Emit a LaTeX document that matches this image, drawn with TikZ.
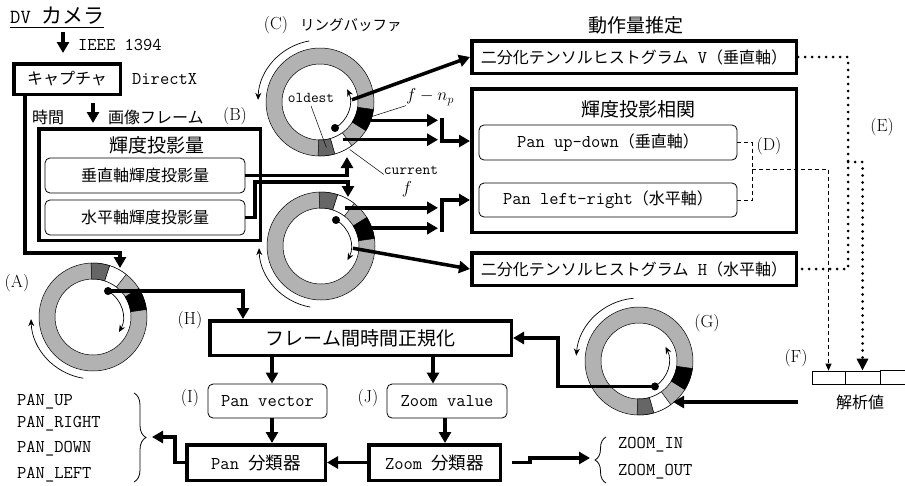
\documentclass[tikz,border=0pt]{standalone}
\usepackage{fontspec}
\newfontfamily\jpfont{Noto Sans CJK JP}
\usetikzlibrary{arrows.meta,decorations.pathreplacing,calc}
\definecolor{ringgray}{gray}{0.70}
\definecolor{darkseg}{gray}{0.40}
\newcommand\jpS{\fontsize{14.5}{16}\jpfont}
\newcommand\jpM{\fontsize{16}{18}\jpfont}
\newcommand\jpL{\fontsize{19}{21}\jpfont}
\newcommand\ttM{\fontsize{18}{20}\ttfamily}
\newcommand\rmL{\fontsize{17.5}{19}\rmfamily}
\newcommand\annsec[4]{\filldraw[shift={(#1)},fill=#4,draw=black,line width=0.5pt] (#2:54pt) arc[start angle=#2,end angle=#3,radius=54pt] -- (#3:38pt) arc[start angle=#3,end angle=#2,radius=38pt] -- cycle;}
\newcommand\ringbase[1]{\filldraw[shift={(#1)},fill=ringgray,draw=black,line width=0.5pt,even odd rule] (0,0) circle[radius=54pt] (0,0) circle[radius=38pt];}
\tikzset{
 tbox/.style={draw,line width=3.5pt,inner sep=0pt},
 rbox/.style={draw,line width=0.8pt,rounded corners=5pt,inner sep=0pt},
 txt/.style={inner sep=0pt},
 conn/.style={line width=3.5pt,-{Triangle[length=11pt,width=12pt]}},
 thinarr/.style={line width=0.7pt,-{Stealth[length=7pt,width=6pt]}},
 dotline/.style={line width=3pt,line cap=round,dash pattern=on 0pt off 7pt},
 dashline/.style={line width=0.8pt,dash pattern=on 4pt off 3pt},
 ptr/.style={line width=0.5pt},
}
\begin{document}
\begin{tikzpicture}[x=1pt,y=1pt]
\useasboundingbox (0,0) rectangle (905,-485);
\fill[white] (0,0) rectangle (905,-485);
\coordinate (rC) at (320,-102);
\coordinate (rL) at (321,-246);
\coordinate (rA) at (93,-317);
\coordinate (rG) at (639,-361);
% ring C
\ringbase{rC}
\annsec{rC}{-92}{-74}{darkseg}
\annsec{rC}{-74}{-54}{white}
\annsec{rC}{-32}{-8}{black}
\draw[shift={(rC)},thinarr] (-60:30pt) arc[start angle=-60,end angle=25,radius=30pt];
\fill[shift={(rC)}] (-60:30pt) circle[radius=4pt];
\draw[shift={(rC)},thinarr] (100:62pt) arc[start angle=100,end angle=178,radius=62pt];
% ring lower
\ringbase{rL}
\annsec{rL}{72}{92}{darkseg}
\annsec{rL}{52}{72}{white}
\annsec{rL}{8}{32}{black}
\draw[shift={(rL)},thinarr] (60:30pt) arc[start angle=60,end angle=-28,radius=30pt];
\fill[shift={(rL)}] (60:30pt) circle[radius=4pt];
\draw[shift={(rL)},thinarr] (-100:62pt) arc[start angle=-100,end angle=-178,radius=62pt];
% ring A
\ringbase{rA}
\annsec{rA}{72}{92}{darkseg}
\annsec{rA}{52}{72}{white}
\annsec{rA}{8}{32}{black}
\draw[shift={(rA)},thinarr] (60:30pt) arc[start angle=60,end angle=-30,radius=30pt];
\fill[shift={(rA)}] (60:30pt) circle[radius=4pt];
\draw[shift={(rA)},thinarr] (-99:62pt) arc[start angle=-99,end angle=-178,radius=62pt];
% ring G
\ringbase{rG}
\annsec{rG}{-92}{-74}{darkseg}
\annsec{rG}{-74}{-54}{white}
\annsec{rG}{-32}{-8}{black}
\draw[shift={(rG)},thinarr] (-58:30pt) arc[start angle=-58,end angle=28,radius=30pt];
\fill[shift={(rG)}] (-58:30pt) circle[radius=4pt];
\draw[shift={(rG)},thinarr] (95:63pt) arc[start angle=95,end angle=175,radius=63pt];

% left top
\node[txt,anchor=west] (dv) at (10,-16) {{\fontsize{20}{21}\ttfamily DV\ }{\fontsize{21}{22}\jpfont カメラ}};
\draw[line width=1pt] ([yshift=-4pt]dv.base west) -- ([yshift=-4pt]dv.base east);
\node[txt,anchor=west,font=\ttM] (ieee) at (78,-45) {IEEE 1394};
\node[tbox,minimum width=106.5pt,minimum height=30.5pt,font=\jpM] (cap) at (67,-79) {キャプチャ};
\node[txt,anchor=west,font=\ttM] (dx) at (132,-79) {DirectX};
\node[txt,anchor=west,font=\jpM] (jikan) at (32,-117) {時間};
\node[txt,anchor=west,font=\jpM] (gazo) at (108,-117) {画像フレーム};
\node[txt,font=\rmL] (lB) at (235,-116) {(B)};
\node[tbox,minimum width=221.5pt,minimum height=111.5pt] (bbox) at (149.5,-184.5) {};
\node[txt,font=\jpL] (btitle) at (157,-145) {輝度投影量};
\node[rbox,minimum width=200pt,minimum height=35pt,font=\jpM] (vrb) at (145,-175.5) {垂直軸輝度投影量};
\node[rbox,minimum width=200pt,minimum height=35pt,font=\jpM] (hrb) at (145,-217.5) {水平軸輝度投影量};
\node[txt,font=\rmL] (lA) at (17,-283) {(A)};
\node[txt,font=\rmL] (lC) at (276,-25) {(C)};
\node[txt,anchor=west,font=\jpS] (ringlab) at (300,-25) {リングバッファ};

% ring C labels
\node[txt,font=\fontsize{15}{16}\ttfamily] (old) at (311,-98) {oldest};
\draw[ptr] ([yshift=-3pt]old.south) -- ($(rC)+(-82:46pt)$);
\node[txt,font=\fontsize{18}{20}\selectfont] (fnp) at (430,-97) {$f-n_p$};
\draw[ptr] (fnp.south west) -- ($(rC)+(-17:52pt)$);
\node[txt,font=\fontsize{15}{16}\ttfamily] (cur) at (411,-170) {current};
\node[txt,font=\fontsize{18}{20}\selectfont] (curf) at (407,-189) {$f$};
\draw[ptr] (cur.south west) -- ($(rC)+(-58:56pt)$);

% right
\node[txt,font=\jpL] (dosa) at (636,-25) {動作量推定};
\node[tbox,minimum width=324.5pt,minimum height=32.5pt] (vhist) at (634,-57) {{\jpM 二分化テンソルヒストグラム}{\ttM\ V}{\jpM （垂直軸）}};
\node[tbox,minimum width=324.5pt,minimum height=143.5pt] (corr) at (634,-160.5) {};
\node[txt,font=\jpL] (ctitle) at (638,-109) {輝度投影相関};
\node[rbox,minimum width=258pt,minimum height=35pt] (panud) at (608,-142.5) {{\ttM Pan up-down}{\jpM （垂直軸）}};
\node[rbox,minimum width=258pt,minimum height=34pt] (panlr) at (608,-200) {{\ttM Pan left-right}{\jpM （水平軸）}};
\node[tbox,minimum width=324.5pt,minimum height=32.5pt] (hhist) at (634,-269) {{\jpM 二分化テンソルヒストグラム}{\ttM\ H}{\jpM （水平軸）}};
\node[txt,font=\rmL] (lD) at (769,-146) {(D)};
\node[txt,font=\rmL] (lE) at (882,-127) {(E)};
\node[txt,font=\rmL] (lF) at (796,-358) {(F)};
\node[txt,font=\rmL] (lG) at (707,-323) {(G)};
\node[draw,line width=0.7pt,minimum width=33pt,minimum height=13pt,inner sep=0pt] (f1) at (828.5,-377.5) {};
\node[draw,line width=0.7pt,minimum width=35pt,minimum height=13pt,inner sep=0pt] (f2) at (862.5,-377.5) {};
\draw[line width=0.7pt] (f2.north east) -- ++(30,0);
\draw[line width=0.7pt] (f2.south east) -- ++(30,0);
\node[txt,font=\jpM] (kaiseki) at (860,-402) {解析値};

% bottom
\node[tbox,minimum width=301.5pt,minimum height=34.5pt,font=\jpL] (hbox) at (360.5,-338) {フレーム間時間正規化};
\node[txt,font=\rmL] (lH) at (190,-320) {(H)};
\node[rbox,minimum width=119pt,minimum height=34pt,font=\ttM] (panvec) at (267.5,-401) {Pan vector};
\node[txt,font=\rmL] (lI) at (190,-398) {(I)};
\node[rbox,minimum width=120pt,minimum height=34pt,font=\ttM] (zoomval) at (447,-401) {Zoom value};
\node[txt,font=\rmL] (lJ) at (368,-398) {(J)};
\node[tbox,minimum width=138.5pt,minimum height=35.5pt] (pancls) at (256,-462.5) {{\ttM Pan\ }{\fontsize{17.5}{19}\jpfont 分類器}};
\node[tbox,minimum width=131.5pt,minimum height=35.5pt] (zoomcls) at (434.5,-462.5) {{\ttM Zoom\ }{\fontsize{17.5}{19}\jpfont 分類器}};
\node[txt,anchor=west,font=\ttM] (pu) at (17,-402) {PAN\_UP};
\node[txt,anchor=west,font=\ttM] (pr) at (17,-424) {PAN\_RIGHT};
\node[txt,anchor=west,font=\ttM] (pd) at (17,-449) {PAN\_DOWN};
\node[txt,anchor=west,font=\ttM] (pl) at (17,-475) {PAN\_LEFT};
\draw[line width=0.8pt,decorate,decoration={brace,amplitude=12pt}] (134,-393) -- (134,-482);
\node[txt,anchor=west,font=\ttM] (zin) at (618,-445) {ZOOM\_IN};
\node[txt,anchor=west,font=\ttM] (zout) at (618,-472) {ZOOM\_OUT};
\draw[line width=0.8pt,decorate,decoration={brace,amplitude=11pt}] (606,-483) -- (606,-437);

% connectors
\coordinate (a0) at (63,-32);
\coordinate (a1) at (63,-53);
\draw[conn] (a0) -- (a1);
\coordinate (a2) at (93,-103);
\coordinate (a3) at (93,-123);
\draw[conn] (a2) -- (a3);
\coordinate (tipA) at (120,-268);
\draw[conn] ([xshift=-42pt]cap.south) |- ($(tipA)+(0,15)$) -- (tipA);
\coordinate (tipC) at (347,-157);
\draw[conn] (vrb.east) -| (tipC);
\coordinate (tipL) at (348,-197);
\draw[conn] (hrb.east) -| (255,-182) -| (tipL);

\coordinate (ce) at (438,0);
\coordinate (c1) at ($(rC)+(-21:51pt)$);
\coordinate (c2) at ($(rC)+(-59:44pt)$);
\draw[conn] (c1) -- (c1 -| ce);
\draw[conn] (c2) -- (c2 -| ce);
\draw[conn] (442,-118) |- ([yshift=19.5pt]corr.west);
\draw[conn] ($(rC)+(4:32pt)$) -- (vhist.west);
\coordinate (l1) at ($(rL)+(58:45pt)$);
\coordinate (l2) at ($(rL)+(20:52pt)$);
\draw[conn] (l1) -- (l1 -| ce);
\draw[conn] (l2) -- (l2 -| ce);
\draw[conn] (442,-232) |- ([yshift=-39.5pt]corr.west);
\draw[conn] ($(rL)+(-4:32pt)$) -- (hhist.west);

\coordinate (dotA) at ($(rA)+(60:30pt)$);
\draw[conn] (dotA) -| ([xshift=-117.5pt]hbox.north);
\coordinate (dotG) at ($(rG)+(-58:30pt)$);
\coordinate (gk) at (558,0);
\draw[conn] (dotG) -- (dotG -| gk) |- (hbox.east);
\coordinate (fs) at (798,-402);
\coordinate (tipG) at ($(rG)+(-50:53pt)$);
\draw[conn] (fs) -- (fs -| tipG);

\coordinate (pv) at ([xshift=4.5pt]panvec.north);
\draw[conn] (pv |- hbox.south) -- (pv);
\coordinate (pv2) at ([xshift=4.5pt]panvec.south);
\draw[conn] (pv2) -- (pv2 |- pancls.north);
\coordinate (zv1) at ([xshift=-14pt]zoomval.north);
\draw[conn] (zv1 |- hbox.south) -- (zv1);
\coordinate (zv2) at ([xshift=-2pt]zoomval.south);
\draw[conn] (zv2) -- (zv2 |- zoomcls.north);
\draw[conn] (zoomcls.west) -- (pancls.east);
\coordinate (brtip) at (152,-437);
\draw[conn] (pancls.west) -- ++(-10,0) |- (brtip);
\coordinate (zbtip) at (590,-458);
\draw[conn] ([xshift=10pt]zoomcls.east) -- ++(18,0) |- (zbtip);

% dashed (D)
\draw[dashline] (panud.east) -- ++(15,0) |- (panlr.east);
\coordinate (dj) at (752,-169);
\draw[dashline,-{Triangle[length=7pt,width=6pt]}] (dj) -| (f1.north);
% dotted (E)
\coordinate (ecol) at (848,-57);
\draw[dotline] (vhist.east) -- (ecol) -- (ecol |- hhist.east) -- (hhist.east);
\coordinate (ej) at (848,-162);
\draw[dotline,-{Triangle[length=12pt,width=11pt]}] (ej) -| (f2.north);
\end{tikzpicture}
\end{document}
